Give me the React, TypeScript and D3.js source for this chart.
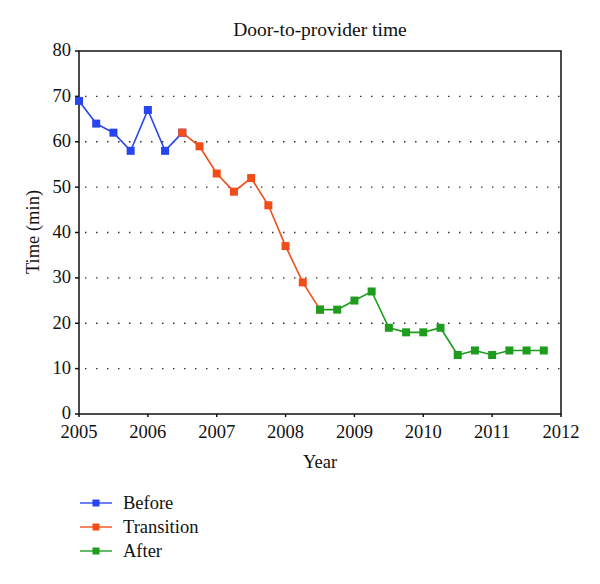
import React from "react";
import * as d3 from "d3";

const beforeX = [2005.0, 2005.25, 2005.5, 2005.75, 2006.0, 2006.25, 2006.5];
const beforeY = [69, 64, 62, 58, 67, 58, 62];
const transitionX = [2006.5, 2006.75, 2007.0, 2007.25, 2007.5, 2007.75, 2008.0, 2008.25, 2008.5];
const transitionY = [62, 59, 53, 49, 52, 46, 37, 29, 23];
const afterX = [2008.5, 2008.75, 2009.0, 2009.25, 2009.5, 2009.75, 2010.0, 2010.25, 2010.5, 2010.75, 2011.0, 2011.25, 2011.5, 2011.75];
const afterY = [23, 23, 25, 27, 19, 18, 18, 19, 13, 14, 13, 14, 14, 14];
const xTicks = [2005, 2006, 2007, 2008, 2009, 2010, 2011, 2012];
const yTicks = [0, 10, 20, 30, 40, 50, 60, 70, 80];
const seriesNames = ["Before", "Transition", "After"];

const colors = ["#2644f0", "#f24c18", "#1d9c1d"];
const font = "'Liberation Serif', 'DejaVu Serif', serif";

export default function App() {
  const W = 600, H = 584;
  const x = d3.scaleLinear().domain([2005, 2012]).range([79, 561]);
  const y = d3.scaleLinear().domain([0, 80]).range([414, 51]);
  const line = d3.line<[number, number]>().x(d => x(d[0])).y(d => y(d[1]));
  const series = [
    { xs: beforeX, ys: beforeY },
    { xs: transitionX, ys: transitionY },
    { xs: afterX, ys: afterY },
  ];
  const ms = 8;
  const fs = 18.5;
  return (
    <svg width={W} height={H} style={{ position: "absolute", left: 0, top: 0, background: "#fff" }} fontFamily={font}>
      <rect x={0} y={0} width={W} height={H} fill="#fff" />
      <text x={320} y={36} textAnchor="middle" fontSize={19.5} fill="#111">Door-to-provider time</text>
      {yTicks.filter(t => t > 0 && t < 80).map(t => (
        <line key={"g" + t} x1={x(2005) + 6} x2={x(2012)} y1={y(t)} y2={y(t)} stroke="#333" strokeWidth={1.3} strokeDasharray="1.5,9.5" />
      ))}
      <rect x={x(2005)} y={y(80)} width={x(2012) - x(2005)} height={y(0) - y(80)} fill="none" stroke="#111" strokeWidth={1.5} />
      {yTicks.map(t => (
        <g key={"y" + t}>
          <line x1={x(2005) - 4} x2={x(2005)} y1={y(t)} y2={y(t)} stroke="#111" strokeWidth={1.5} />
          <text x={x(2005) - 8} y={y(t) - 1} dy="0.35em" textAnchor="end" fontSize={fs} fill="#111">{t}</text>
        </g>
      ))}
      {xTicks.map(t => (
        <g key={"x" + t}>
          <line x1={x(t)} x2={x(t)} y1={y(0)} y2={y(0) + 3} stroke="#111" strokeWidth={1.5} />
          <text x={x(t)} y={y(0) + 24} textAnchor="middle" fontSize={fs} fill="#111">{t}</text>
        </g>
      ))}
      <text x={320} y={468} textAnchor="middle" fontSize={fs} fill="#111">Year</text>
      <text transform={`translate(39,${232}) rotate(-90)`} textAnchor="middle" fontSize={fs} fill="#111">Time (min)</text>
      {series.map((s, i) => {
        const pts = s.xs.map((v, j) => [v, s.ys[j]] as [number, number]);
        return <path key={"l" + i} d={line(pts) || ""} fill="none" stroke={colors[i]} strokeWidth={1.6} />;
      })}
      {series.map((s, i) => (
        <g key={"m" + i}>
          {s.xs.map((v, j) => (
            <rect key={j} x={x(v) - ms / 2} y={y(s.ys[j]) - ms / 2} width={ms} height={ms} fill={colors[i]} />
          ))}
        </g>
      ))}
      {seriesNames.map((n, i) => {
        const ly = 503 + i * 24;
        return (
          <g key={"lg" + i}>
            <line x1={80} x2={112} y1={ly} y2={ly} stroke={colors[i]} strokeWidth={1.6} opacity={0.85} />
            <rect x={96 - 3.5} y={ly - 3.5} width={7} height={7} fill={colors[i]} />
            <text x={123} y={ly} dy="0.35em" fontSize={fs} fill="#111">{n}</text>
          </g>
        );
      })}
    </svg>
  );
}
